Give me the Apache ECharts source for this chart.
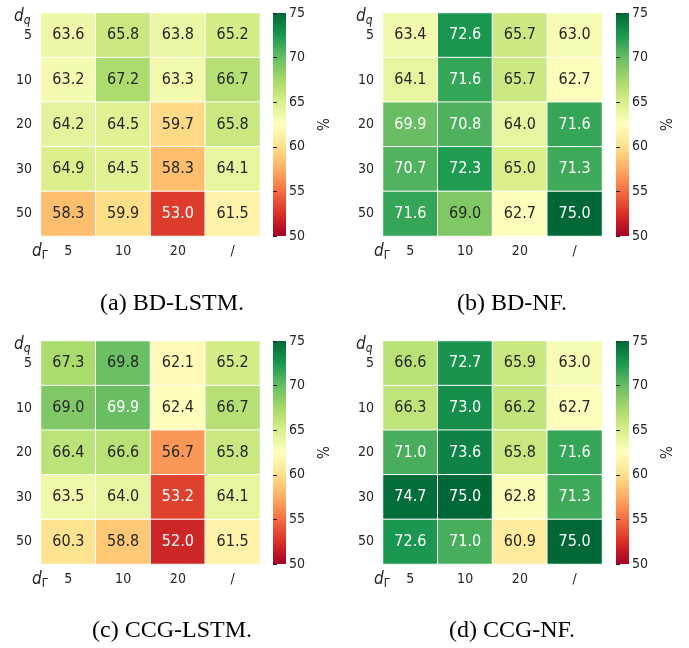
<!DOCTYPE html>
<html><head><meta charset="utf-8">
<script src="https://cdn.jsdelivr.net/npm/echarts@6/dist/echarts.min.js"></script>
<style>html,body{margin:0;padding:0;background:#fff}#c{width:689px;height:648px}</style>
</head><body><div id="c"></div>
<script>
const rowLabels = ['5','10','20','30','50'];       // d_q
const colLabels = ['5','10','20','/'];             // d_Gamma
const colorbarTicks = [50,55,60,65,70,75];
const captions = ['(a) BD-LSTM.','(b) BD-NF.','(c) CCG-LSTM.','(d) CCG-NF.'];

const bdLstm = [
  [63.6,65.8,63.8,65.2],
  [63.2,67.2,63.3,66.7],
  [64.2,64.5,59.7,65.8],
  [64.9,64.5,58.3,64.1],
  [58.3,59.9,53.0,61.5]
];
const bdNf = [
  [63.4,72.6,65.7,63.0],
  [64.1,71.6,65.7,62.7],
  [69.9,70.8,64.0,71.6],
  [70.7,72.3,65.0,71.3],
  [71.6,69.0,62.7,75.0]
];
const ccgLstm = [
  [67.3,69.8,62.1,65.2],
  [69.0,69.9,62.4,66.7],
  [66.4,66.6,56.7,65.8],
  [63.5,64.0,53.2,64.1],
  [60.3,58.8,52.0,61.5]
];
const ccgNf = [
  [66.6,72.7,65.9,63.0],
  [66.3,73.0,66.2,62.7],
  [71.0,73.6,65.8,71.6],
  [74.7,75.0,62.8,71.3],
  [72.6,71.0,60.9,75.0]
];
const panels = [bdLstm, bdNf, ccgLstm, ccgNf];

const VMIN = 50, VMAX = 75;
const cmap = ['#a50026','#d73027','#f46d43','#fdae61','#fee08b','#ffffbf','#d9ef8b','#a6d96a','#66bd63','#1a9850','#006837'];

function hexToRgb(h){return [parseInt(h.slice(1,3),16),parseInt(h.slice(3,5),16),parseInt(h.slice(5,7),16)];}
function colorAt(v){
  let t = Math.max(0,Math.min(1,(v-VMIN)/(VMAX-VMIN)))*(cmap.length-1);
  let i = Math.min(Math.floor(t), cmap.length-2), f = t-i;
  const a = hexToRgb(cmap[i]), b = hexToRgb(cmap[i+1]);
  return a.map((x,k)=>x+(b[k]-x)*f);
}
function lum(rgb){
  const c = rgb.map(x=>{x/=255;return x<=0.03928?x/12.92:Math.pow((x+0.055)/1.055,2.4);});
  return 0.2126*c[0]+0.7152*c[1]+0.0722*c[2];
}

// layout (pixels)
const gx = [41, 383], gy = [13, 341], gw = 219, gh = 223;
const cbx = [273, 616], cbw = 13;
const font = '"DejaVu Sans Condensed", "DejaVu Sans"';
const txt = '#262626';

const grids = [], xAxes = [], yAxes = [], series = [], visualMaps = [], graphics = [];
panels.forEach((mat, p) => {
  const col = p % 2, row = Math.floor(p/2);
  const L = gx[col], T = gy[row];
  grids.push({left: L, top: T, width: gw, height: gh});
  xAxes.push({type:'category', gridIndex: grids.length-1, data: colLabels, position:'bottom',
    axisLine:{show:false}, axisTick:{show:false}, splitLine:{show:false},
    axisLabel:{fontFamily:font, fontSize:14, color:txt, margin:8}});
  yAxes.push({type:'category', gridIndex: grids.length-1, data: rowLabels, inverse:true,
    axisLine:{show:false}, axisTick:{show:false}, splitLine:{show:false},
    axisLabel:{fontFamily:font, fontSize:14, color:txt, margin:9}});
  const data = [];
  mat.forEach((r, i) => r.forEach((v, j) => {
    const dark = lum(colorAt(v)) > 0.408;
    data.push({value:[j, i, v], label:{color: dark ? txt : '#ffffff'}});
  }));
  const si = series.length;
  series.push({type:'heatmap', xAxisIndex: grids.length-1, yAxisIndex: grids.length-1, data,
    itemStyle:{borderColor:'#ffffff', borderWidth:1},
    label:{show:true, fontFamily:font, fontSize:16, formatter: d => d.value[2].toFixed(1)},
    emphasis:{disabled:true}});
  visualMaps.push({type:'continuous', show:false, min:VMIN, max:VMAX, seriesIndex: si,
    inRange:{color: cmap}});
  // colorbar: gradient bar + value axis
  graphics.push({type:'rect', shape:{x: cbx[col], y: T, width: cbw, height: gh}, silent:true,
    style:{fill: new echarts.graphic.LinearGradient(0, 1, 0, 0,
      cmap.map((c, k) => ({offset: k/(cmap.length-1), color: c})))}});
  grids.push({left: cbx[col], top: T, width: cbw, height: gh});
  xAxes.push({type:'value', gridIndex: grids.length-1, show:false});
  yAxes.push({type:'value', gridIndex: grids.length-1, position:'right', min:VMIN, max:VMAX, interval:5,
    axisLine:{show:false}, splitLine:{show:false},
    axisTick:{show:true, length:4, lineStyle:{color:txt, width:1}},
    axisLabel:{fontFamily:font, fontSize:14, color:txt, margin:3, formatter: v => colorbarTicks.includes(v) ? String(v) : ''},
    name:'%', nameLocation:'middle', nameRotate:90, nameGap:32,
    nameTextStyle:{fontFamily:font, fontSize:15, color:txt}});
  // math labels
  graphics.push({type:'text', x: L-27, y: T-7, scaleX:0.9, style:{
    rich:{d:{fontFamily:'DejaVu Sans', fontStyle:'italic', fontSize:17, fill:txt}, s:{fontFamily:'DejaVu Sans', fontStyle:'italic', fontSize:12, fill:txt, padding:[9,0,0,0]}},
    text:'{d|d}{s|q}'}});
  graphics.push({type:'text', x: L-9, y: T+gh+5, scaleX:0.9, style:{
    rich:{d:{fontFamily:'DejaVu Sans', fontStyle:'italic', fontSize:17, fill:txt}, s:{fontFamily:'DejaVu Sans', fontSize:12, fill:txt, padding:[9,0,0,0]}},
    text:'{d|d}{s|Γ}'}});
  graphics.push({type:'text', x: [172, 512][col], y: [304, 631][row], style:{
    text: captions[p], fontFamily:'Liberation Serif', fontSize:24, fill:'#000',
    textAlign:'center', textVerticalAlign:'middle'}});
});

const chart = echarts.init(document.getElementById('c'));
chart.setOption({animation:false, grid: grids, xAxis: xAxes, yAxis: yAxes, series, visualMap: visualMaps, graphic: graphics});
</script></body></html>
